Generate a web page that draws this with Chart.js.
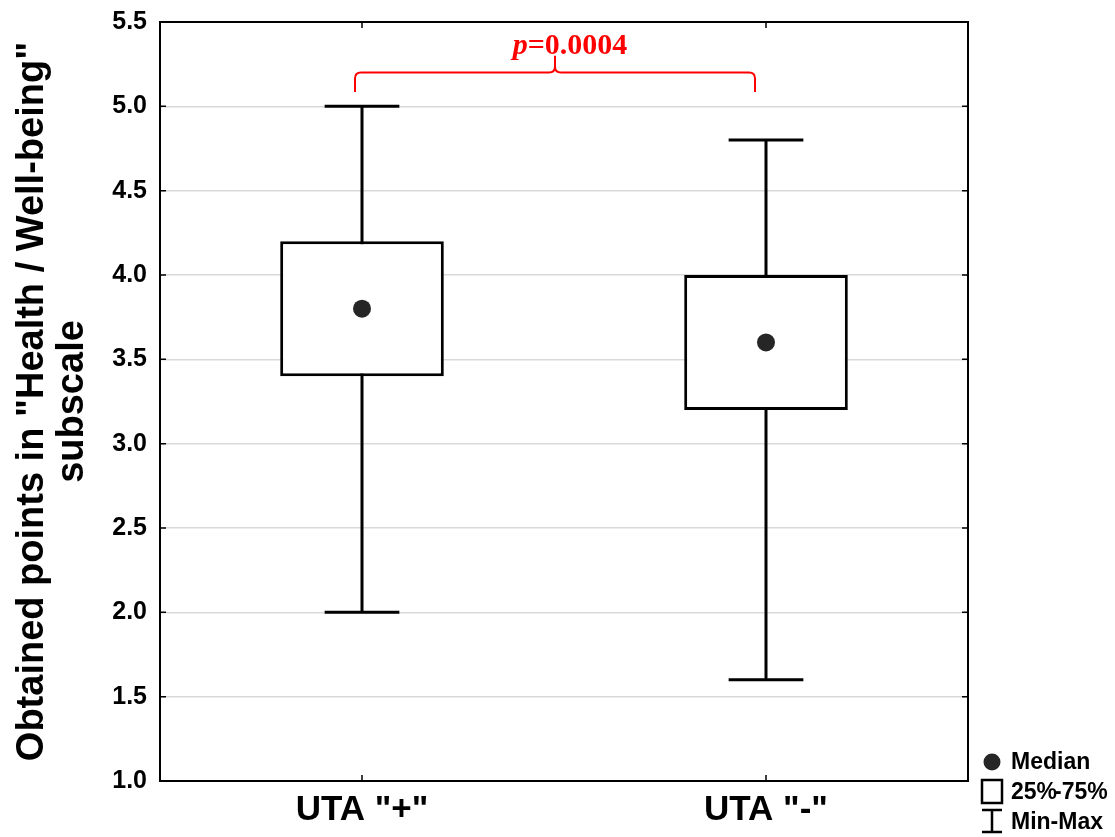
<!DOCTYPE html>
<html>
<head>
<meta charset="utf-8">
<script src="https://cdn.jsdelivr.net/npm/chart.js@4.4.1/dist/chart.umd.min.js"></script>
<style>
html,body{margin:0;padding:0;background:#fff;}
#wrap{width:1115px;height:837px;}
</style>
</head>
<body>
<div id="wrap"><canvas id="c" width="1115" height="837"></canvas></div>
<script>
// ---- data ----
const categories = ['UTA "+"', 'UTA "-"'];
const medians = [3.8, 3.6];
const q1 = [3.4, 3.2];
const q3 = [4.2, 4.0];
const mins = [2.0, 1.6];
const maxs = [5.0, 4.8];
const yTicks = [1.0, 1.5, 2.0, 2.5, 3.0, 3.5, 4.0, 4.5, 5.0, 5.5];
const yTitle = ['Obtained points in "Health / Well-being"', 'subscale'];
const pText = ['p', '=0.0004'];
const legendLabels = ['Median', ['25%', '-75%'], 'Min-Max'];
// bracket levels (in value units)
const bracketLevels = {line: 5.2, ends: 5.085, tip: 5.3, text: 5.31};

const FONT = 'Arial, "Liberation Sans", Helvetica, sans-serif';

const boxes = q1.map((v, i) => [v, q3[i]]);

const drawPlugin = {
  id: 'boxExtras',
  beforeDatasetsDraw(chart) {
    const ctx = chart.ctx, x = chart.scales.x, y = chart.scales.y;
    const catW = x.getPixelForValue(1) - x.getPixelForValue(0);
    const capHalf = catW * 0.0925;
    ctx.save();
    ctx.strokeStyle = '#000';
    ctx.lineWidth = 3;
    categories.forEach((c, i) => {
      const cx = x.getPixelForValue(i);
      const yMin = y.getPixelForValue(mins[i]), yMax = y.getPixelForValue(maxs[i]);
      ctx.beginPath();
      ctx.moveTo(cx, yMin); ctx.lineTo(cx, yMax);
      ctx.moveTo(cx - capHalf, yMin); ctx.lineTo(cx + capHalf, yMin);
      ctx.moveTo(cx - capHalf, yMax); ctx.lineTo(cx + capHalf, yMax);
      ctx.stroke();
    });
    ctx.restore();
  },
  afterDraw(chart) {
    const ctx = chart.ctx, x = chart.scales.x, y = chart.scales.y, a = chart.chartArea;
    ctx.save();
    // inward ticks
    ctx.strokeStyle = '#000';
    ctx.lineWidth = 1.5;
    ctx.beginPath();
    yTicks.forEach(v => {
      const py = y.getPixelForValue(v);
      ctx.moveTo(a.left, py); ctx.lineTo(a.left + 6, py);
      ctx.moveTo(a.right, py); ctx.lineTo(a.right - 6, py);
    });
    categories.forEach((c, i) => {
      const px = x.getPixelForValue(i);
      ctx.moveTo(px, a.top); ctx.lineTo(px, a.top + 6);
      ctx.moveTo(px, a.bottom); ctx.lineTo(px, a.bottom - 6);
    });
    ctx.stroke();
    // frame
    ctx.lineWidth = 2;
    ctx.strokeRect(a.left, a.top, a.right - a.left, a.bottom - a.top);

    // y title
    ctx.fillStyle = '#000';
    ctx.font = 'bold 38px ' + FONT;
    ctx.textAlign = 'center';
    ctx.textBaseline = 'middle';
    const cy = (a.top + a.bottom) / 2;
    [33, 73].forEach((tx, k) => {
      ctx.save();
      ctx.translate(tx, cy);
      ctx.rotate(-Math.PI / 2);
      ctx.fillText(yTitle[k], 0, 0);
      ctx.restore();
    });

    // significance bracket
    const x0 = x.getPixelForValue(0) - 7;
    const x1 = x.getPixelForValue(1) - 11;
    const mid = (x0 + x1) / 2;
    const yl = y.getPixelForValue(bracketLevels.line);
    const ye = y.getPixelForValue(bracketLevels.ends);
    const yt = y.getPixelForValue(bracketLevels.tip);
    const r = 6;
    ctx.strokeStyle = '#ff0000';
    ctx.lineWidth = 2;
    ctx.beginPath();
    ctx.moveTo(x0, ye);
    ctx.lineTo(x0, yl + r);
    ctx.quadraticCurveTo(x0, yl, x0 + r, yl);
    ctx.lineTo(mid - r, yl);
    ctx.quadraticCurveTo(mid, yl, mid, yl - r);
    ctx.lineTo(mid, yt);
    ctx.moveTo(mid, yl - r);
    ctx.quadraticCurveTo(mid, yl, mid + r, yl);
    ctx.lineTo(x1 - r, yl);
    ctx.quadraticCurveTo(x1, yl, x1, yl + r);
    ctx.lineTo(x1, ye);
    ctx.stroke();
    // p text
    ctx.fillStyle = '#ff0000';
    ctx.textAlign = 'left';
    ctx.textBaseline = 'alphabetic';
    const ty = y.getPixelForValue(bracketLevels.text);
    const serif = '"Liberation Serif", "Times New Roman", serif';
    ctx.font = 'italic bold 30px ' + serif;
    const w1 = ctx.measureText(pText[0]).width;
    ctx.font = 'bold 30px ' + serif;
    const w2 = ctx.measureText(pText[1]).width;
    let tx = mid + 15 - (w1 + w2) / 2;
    ctx.font = 'italic bold 30px ' + serif;
    ctx.fillText(pText[0], tx, ty);
    ctx.font = 'bold 30px ' + serif;
    ctx.fillText(pText[1], tx + w1, ty);

    // legend
    const lx = a.right + 24;
    const rows = [762, 792, 822];
    ctx.fillStyle = '#262626';
    ctx.beginPath();
    ctx.arc(lx, rows[0], 8.5, 0, Math.PI * 2);
    ctx.fill();
    ctx.strokeStyle = '#000';
    ctx.lineWidth = 2.5;
    ctx.strokeRect(lx - 10, rows[1] - 12, 20, 23);
    ctx.beginPath();
    ctx.moveTo(lx - 10, rows[2] - 12); ctx.lineTo(lx + 10, rows[2] - 12);
    ctx.moveTo(lx, rows[2] - 12); ctx.lineTo(lx, rows[2] + 10);
    ctx.moveTo(lx - 10, rows[2] + 10); ctx.lineTo(lx + 10, rows[2] + 10);
    ctx.stroke();
    ctx.fillStyle = '#000';
    ctx.font = 'bold 23px ' + FONT;
    ctx.textAlign = 'left';
    ctx.textBaseline = 'middle';
    legendLabels.forEach((t, k) => {
      const tx0 = lx + 19;
      if (Array.isArray(t)) {
        const wa = ctx.measureText(t[0]).width;
        ctx.fillText(t[0], tx0, rows[k] + 1);
        ctx.fillText(t[1], tx0 + wa - 3, rows[k] + 1);
      } else {
        ctx.fillText(t, tx0, rows[k] + 1);
      }
    });
    ctx.restore();
  }
};

new Chart(document.getElementById('c'), {
  type: 'bar',
  data: {
    labels: categories,
    datasets: [
      {
        type: 'line',
        data: medians,
        showLine: false,
        pointRadius: 9,
        pointHoverRadius: 9,
        pointBackgroundColor: '#262626',
        pointBorderWidth: 0,
        order: 0
      },
      {
        type: 'bar',
        data: boxes,
        backgroundColor: '#ffffff',
        borderColor: '#000000',
        borderWidth: 3,
        borderSkipped: false,
        barPercentage: 0.405,
        categoryPercentage: 1.0,
        order: 1
      }
    ]
  },
  options: {
    responsive: false,
    animation: false,
    devicePixelRatio: 1,
    layout: {padding: {top: 22, right: 147, left: 0, bottom: 0}},
    plugins: {legend: {display: false}, tooltip: {enabled: false}},
    scales: {
      x: {
        type: 'category',
        offset: true,
        grid: {display: false, drawTicks: false},
        border: {display: false},
        ticks: {
          color: '#000',
          padding: 8,
          font: {family: FONT, size: 35, weight: 'bold'}
        },
        afterFit(s) { s.height = 56; s.paddingLeft = 0; s.paddingRight = 0; }
      },
      y: {
        min: 1.0,
        max: 5.5,
        grid: {color: '#d9d9d9', lineWidth: 1.5, drawTicks: false},
        border: {display: false},
        ticks: {
          stepSize: 0.5,
          color: '#000',
          padding: 13,
          font: {family: FONT, size: 25, weight: 'bold'},
          callback: v => Number(v).toFixed(1)
        },
        afterFit(s) { s.width = 160; s.paddingTop = 0; s.paddingBottom = 0; }
      }
    }
  },
  plugins: [drawPlugin]
});
</script>
</body>
</html>
